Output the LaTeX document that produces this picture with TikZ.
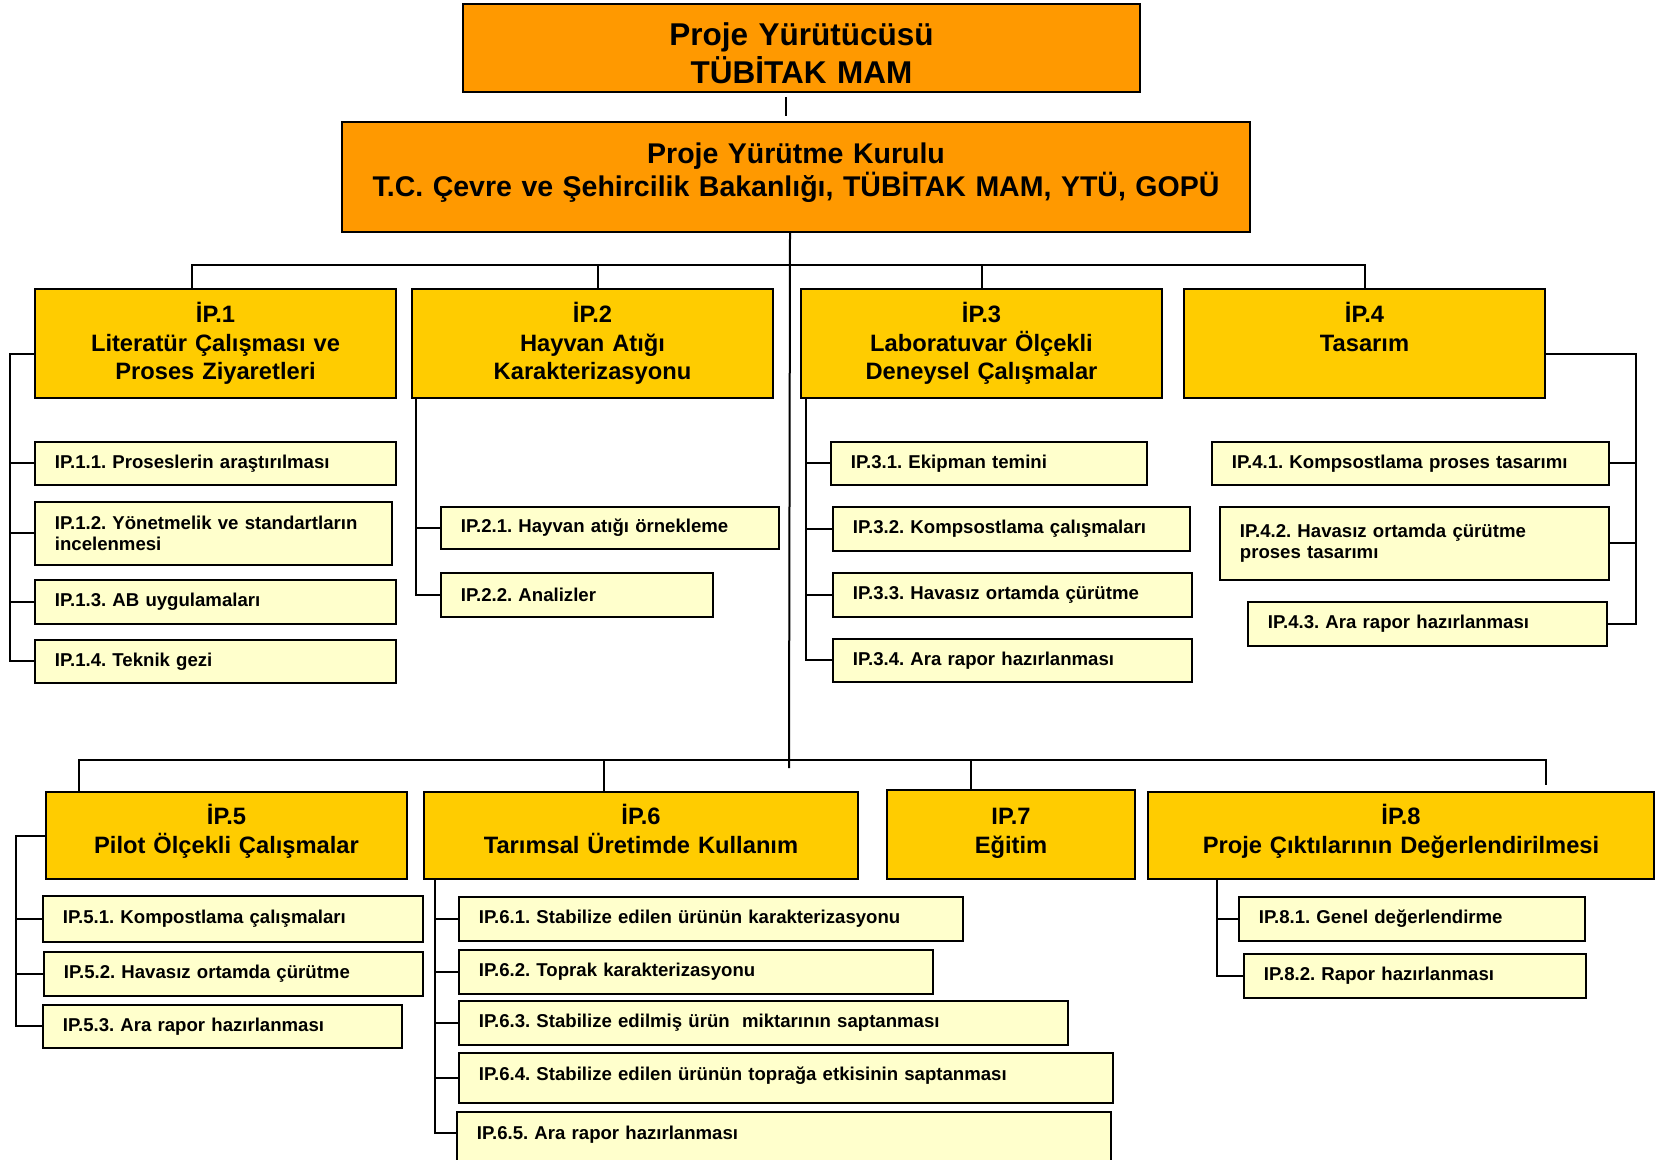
\documentclass[tikz,border=0pt]{standalone}
\usepackage{fontspec}
\setmainfont{Liberation Sans}
\usepackage{xcolor}

\definecolor{headorange}{HTML}{FF9900}
\definecolor{wpyellow}{HTML}{FFCC00}
\definecolor{taskyellow}{HTML}{FFFFCC}

\tikzset{
  headbox/.style={draw=black, line width=2pt, fill=headorange, anchor=north west, align=center, inner sep=0pt},
  wpbox/.style={draw=black, line width=2pt, fill=wpyellow, anchor=north west, align=center, inner sep=0pt,
    font=\fontsize{23.7}{28.5}\selectfont\bfseries},
  wptop/.style={wpbox, text height=33.5pt, text depth=75.5pt},
  wpbottom/.style={wpbox, text height=32.5pt, text depth=54.5pt},
  taskbox/.style={draw=black, line width=1.8pt, fill=taskyellow, anchor=north west, align=left,
    inner xsep=20pt, inner ysep=0pt, font=\fontsize{18.6}{21.5}\selectfont\bfseries},
  link/.style={line width=2pt}
}

\begin{document}
\frenchspacing
\begin{tikzpicture}[x=1pt, y=-1pt]
\useasboundingbox (0,0) rectangle (1656,1159);

% management
\node[headbox, font=\fontsize{31.5}{38}\selectfont\bfseries, text width=677pt, text height=41pt, text depth=47pt] (ytc) at (462,3) {Proje Yürütücüsü\\TÜBİTAK MAM};
\node[headbox, font=\fontsize{28.5}{33}\selectfont\bfseries, text width=908pt, text height=41pt, text depth=69pt] (kurul) at (341,121) {Proje Yürütme Kurulu\\T.C. Çevre ve Şehircilik Bakanlığı, TÜBİTAK MAM, YTÜ, GOPÜ};

% work packages, upper row
\node[wptop, text width=361pt] (ip1) at (34,288) {İP.1\\Literatür Çalışması ve\\Proses Ziyaretleri};
\node[wptop, text width=361pt] (ip2) at (411,288) {İP.2\\Hayvan Atığı\\Karakterizasyonu};
\node[wptop, text width=361pt] (ip3) at (800,288) {İP.3\\Laboratuvar Ölçekli\\Deneysel Çalışmalar};
\node[wptop, text width=361pt] (ip4) at (1183,288) {İP.4\\Tasarım};

% work packages, lower row
\node[wpbottom, text width=361pt] (ip5) at (45,791) {İP.5\\Pilot Ölçekli Çalışmalar};
\node[wpbottom, text width=434pt] (ip6) at (423,791) {İP.6\\Tarımsal Üretimde Kullanım};
\node[wpbottom, text width=248pt, text height=34.5pt] (ip7) at (886,789) {IP.7\\Eğitim};
\node[wpbottom, text width=506pt] (ip8) at (1147,791) {İP.8\\Proje Çıktılarının Değerlendirilmesi};

% tasks
\node[taskbox, text width=321pt, minimum height=43pt] (t11) at (34,441) {IP.1.1. Proseslerin araştırılması};
\node[taskbox, text width=317pt, minimum height=63pt] (t12) at (34,501) {IP.1.2. Yönetmelik ve standartların\\incelenmesi};
\node[taskbox, text width=321pt, minimum height=44pt] (t13) at (34,579) {IP.1.3. AB uygulamaları};
\node[taskbox, text width=321pt, minimum height=43pt] (t14) at (34,639) {IP.1.4. Teknik gezi};

\node[taskbox, text width=298pt, minimum height=42pt] (t21) at (440,506) {IP.2.1. Hayvan atığı örnekleme};
\node[taskbox, text width=232pt, minimum height=44pt] (t22) at (440,572) {IP.2.2. Analizler};

\node[taskbox, text width=276pt, minimum height=43pt] (t31) at (830,441) {IP.3.1. Ekipman temini};
\node[taskbox, text width=317pt, minimum height=44pt] (t32) at (832,506) {IP.3.2. Kompsostlama çalışmaları};
\node[taskbox, text width=319pt, minimum height=44pt] (t33) at (832,572) {IP.3.3. Havasız ortamda çürütme};
\node[taskbox, text width=319pt, minimum height=43pt] (t34) at (832,638) {IP.3.4. Ara rapor hazırlanması};

\node[taskbox, text width=357pt, minimum height=43pt] (t41) at (1211,441) {IP.4.1. Kompsostlama proses tasarımı};
\node[taskbox, text width=349pt, minimum height=73pt] (t42) at (1219,506) {IP.4.2. Havasız ortamda çürütme\\proses tasarımı};
\node[taskbox, text width=319pt, minimum height=44pt] (t43) at (1247,601) {IP.4.3. Ara rapor hazırlanması};

\node[taskbox, text width=340pt, minimum height=46pt] (t51) at (42,895) {IP.5.1. Kompostlama çalışmaları};
\node[taskbox, text width=339pt, minimum height=44pt] (t52) at (43,951) {IP.5.2. Havasız ortamda çürütme};
\node[taskbox, text width=319pt, minimum height=43pt] (t53) at (42,1004) {IP.5.3. Ara rapor hazırlanması};

\node[taskbox, text width=464pt, minimum height=44pt] (t61) at (458,896) {IP.6.1. Stabilize edilen ürünün karakterizasyonu};
\node[taskbox, text width=434pt, minimum height=44pt] (t62) at (458,949) {IP.6.2. Toprak karakterizasyonu};
\node[taskbox, text width=569pt, minimum height=44pt] (t63) at (458,1000) {IP.6.3. Stabilize edilmiş ürün\ \ miktarının saptanması};
\node[taskbox, text width=614pt, text height=28pt, text depth=22pt] (t64) at (458,1052) {IP.6.4. Stabilize edilen ürünün toprağa etkisinin saptanması};
\node[taskbox, text width=614pt, text height=28pt, text depth=32pt] (t65) at (456,1111) {IP.6.5. Ara rapor hazırlanması};

\node[taskbox, text width=306pt, minimum height=44pt] (t81) at (1238,896) {IP.8.1. Genel değerlendirme};
\node[taskbox, text width=302pt, minimum height=44pt] (t82) at (1243,953) {IP.8.2. Rapor hazırlanması};

% main lines
\draw[link, shorten <=4pt, shorten >=5pt] ([xshift=-15.5pt]ytc.south) -- ([xshift=-15.5pt]ytc.south |- kurul.north);
\coordinate (spineend) at (789,768);
\draw[link] ([xshift=-6pt]kurul.south) -- (spineend);
\draw[link] ([xshift=-23.5pt]ip1.north) -- ++(0,-23) -| (ip4.north);
\draw[link] ([xshift=5.5pt]ip2.north) -- ++(0,-23);
\draw[link] (ip3.north) -- ++(0,-23);
\draw[link] ([xshift=-147.5pt]ip5.north) -- ++(0,-31) -| ([xshift=145pt,yshift=6pt]ip8.north);
\draw[link] ([xshift=-37pt]ip6.north) -- ++(0,-31);
\draw[link] ([xshift=-40pt]ip7.north) -- ++(0,-29);

% task lines
\draw[link] ([yshift=-10pt]ip1.west) -- ++(-24,0) |- (t14.west);
\foreach \t in {t11,t12,t13}
  \draw[link] (\t.west) -- ++(-24,0);

\coordinate (tr2) at ([xshift=5pt]ip2.south west);
\draw[link] (tr2) |- (t22.west);
\draw[link] (t21.west) -- (t21.west -| tr2);

\coordinate (tr3) at ([xshift=6pt]ip3.south west);
\draw[link] (tr3) |- (t34.west);
\foreach \t in {t31,t32,t33}
  \draw[link] (\t.west) -- (\t.west -| tr3);

\draw[link] ([yshift=-10pt]ip4.east) -- ++(90,0) |- (t43.east);
\foreach \t in {t41,t42}
  \draw[link] (\t.east) -- ++(26,0);

\draw[link] (ip5.west) -- ++(-29,0) |- (t53.west);
\foreach \t in {t51,t52}
  \draw[link] (\t.west) -- ++(-26,0);

\coordinate (tr6) at ([xshift=12pt]ip6.south west);
\draw[link] (tr6) |- ([yshift=9pt]t65.west);
\foreach \t in {t61,t62,t63,t64}
  \draw[link] (\t.west) -- (\t.west -| tr6);

\coordinate (tr8) at ([xshift=70pt]ip8.south west);
\draw[link] (tr8) |- (t82.west);
\draw[link] (t81.west) -- (t81.west -| tr8);
\end{tikzpicture}
\end{document}
